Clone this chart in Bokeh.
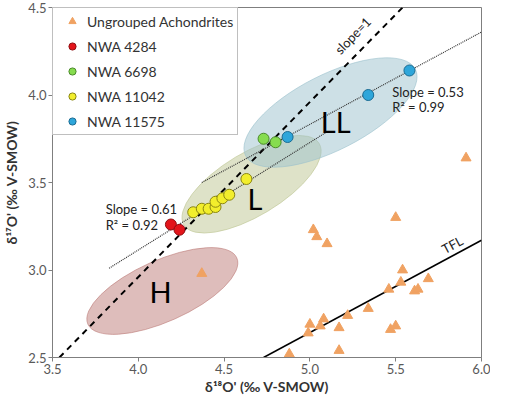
import math
from bokeh.plotting import figure
from bokeh.models import Range1d, Label, FixedTicker
from bokeh.embed import file_html
from bokeh.resources import INLINE

# ---- data ----
ungrouped_x = [5.91, 4.37, 5.50, 5.02, 5.04, 5.10, 5.54, 5.53, 5.69, 5.46, 5.61, 5.63,
               5.34, 5.22, 5.08, 5.06, 5.00, 4.99, 5.17, 5.47, 5.50, 5.17, 4.88]
ungrouped_y = [3.64, 2.98, 3.30, 3.23, 3.19, 3.15, 3.00, 2.93, 2.95, 2.89, 2.88, 2.89,
               2.78, 2.74, 2.72, 2.68, 2.69, 2.64, 2.67, 2.66, 2.68, 2.54, 2.52]
nwa4284_x = [4.19, 4.24]
nwa4284_y = [3.26, 3.23]
nwa6698_x = [4.73, 4.80]
nwa6698_y = [3.75, 3.73]
nwa11042_x = [4.32, 4.37, 4.41, 4.45, 4.45, 4.49, 4.53, 4.63]
nwa11042_y = [3.33, 3.35, 3.35, 3.36, 3.39, 3.41, 3.43, 3.52]
nwa11575_x = [4.87, 5.34, 5.58]
nwa11575_y = [3.76, 4.00, 4.14]

# chondrite group fields (center, width, height, angle in degrees)
group_names = ["H", "L", "LL"]
group_cx = [4.14, 4.66, 5.12]
group_cy = [2.88, 3.49, 3.90]
group_w = [0.95, 0.92, 1.11]
group_h = [0.35, 0.36, 0.43]
group_angle = [24, 31, 27]
group_label_x = [4.13, 4.68, 5.15]
group_label_y = [2.88, 3.41, 3.85]

# reference lines (end points)
slope1_x = [3.54, 5.54]
slope1_y = [2.50, 4.50]
tfl_x = [4.73, 6.00]
tfl_y = [2.50, 3.17]
fit4284_x = [3.83, 5.10]
fit4284_y = [3.01, 3.79]
fit11575_x = [4.37, 6.00]
fit11575_y = [3.50, 4.36]

x_ticks = [3.5, 4.0, 4.5, 5.0, 5.5, 6.0]
y_ticks = [2.5, 3.0, 3.5, 4.0, 4.5]

FONT = "Lato"

p = figure(width=490, height=397, x_range=Range1d(3.5, 6.0), y_range=Range1d(2.5, 4.5),
           output_backend="svg", toolbar_location=None,
           min_border_left=48, min_border_right=9, min_border_top=7, min_border_bottom=39)
p.background_fill_color = "white"
p.border_fill_color = "white"
p.outline_line_color = "#7f7f7f"
p.outline_line_width = 1
p.grid.visible = False

# ellipses
fills = ["#bd7b78", "#bdc591", "#9bc1cd"]
for i in range(3):
    p.ellipse(x=[group_cx[i]], y=[group_cy[i]], width=[group_w[i]], height=[group_h[i]],
              angle=[math.radians(group_angle[i])], fill_color=fills[i], fill_alpha=0.5,
              line_color=fills[i], line_alpha=0.6, line_width=1)

# lines
p.line(slope1_x, slope1_y, line_color="black", line_width=2, line_dash="6 5")
p.line(tfl_x, tfl_y, line_color="black", line_width=1.6)
p.line(fit4284_x, fit4284_y, line_color="#333333", line_width=1.2, line_dash="1 1")
p.line(fit11575_x, fit11575_y, line_color="#333333", line_width=1.2, line_dash="1 1")

# points
p.scatter(ungrouped_x, ungrouped_y, marker="triangle", size=10, fill_color="#f0a262",
          line_color="#f0a262", legend_label="Ungrouped Achondrites")
p.scatter(nwa4284_x, nwa4284_y, marker="circle", size=11, fill_color="#e3151b",
          line_color="#8f1013", line_width=1, legend_label="NWA 4284")
p.scatter(nwa6698_x, nwa6698_y, marker="circle", size=11, fill_color="#86dc4f",
          line_color="#4a8a2a", line_width=1, legend_label="NWA 6698")
p.scatter(nwa11042_x, nwa11042_y, marker="circle", size=11, fill_color="#f2ee2c",
          line_color="#8a8612", line_width=1, legend_label="NWA 11042")
p.scatter(nwa11575_x, nwa11575_y, marker="circle", size=11, fill_color="#2ea6da",
          line_color="#1b6c93", line_width=1, legend_label="NWA 11575")

# group labels
for i in range(3):
    p.add_layout(Label(x=group_label_x[i], y=group_label_y[i], text=group_names[i],
                       text_font=FONT, text_font_size="29px", text_color="black",
                       text_align="center", text_baseline="middle"))

# annotations
ann = dict(text_font=FONT, text_font_size="13px", text_color="#222222", text_baseline="middle")
p.add_layout(Label(x=3.81, y=3.35, text="Slope = 0.61", **ann))
p.add_layout(Label(x=3.81, y=3.255, text="R² = 0.92", **ann))
p.add_layout(Label(x=5.48, y=4.02, text="Slope = 0.53", **ann))
p.add_layout(Label(x=5.48, y=3.93, text="R² = 0.99", **ann))
p.add_layout(Label(x=5.25, y=4.34, text="slope=1", text_align="center",
                   angle=math.radians(46), **ann))
p.add_layout(Label(x=5.83, y=3.145, text="TFL", text_align="center",
                   angle=math.radians(28), **ann))

# axes
p.xaxis.ticker = FixedTicker(ticks=x_ticks)
p.yaxis.ticker = FixedTicker(ticks=y_ticks)
p.xaxis.major_label_overrides = {t: f"{t:.1f}" for t in x_ticks}
p.yaxis.major_label_overrides = {t: f"{t:.1f}" for t in y_ticks}
for ax in (p.xaxis[0], p.yaxis[0]):
    ax.minor_tick_line_color = None
    ax.major_tick_in = 0
    ax.major_tick_out = 4
    ax.major_tick_line_color = "#7f7f7f"
    ax.axis_line_color = "#7f7f7f"
    ax.major_label_text_font = FONT
    ax.major_label_text_font_size = "13px"
    ax.major_label_text_color = "#595959"
    ax.axis_label_text_font = FONT
    ax.axis_label_text_font_size = "14px"
    ax.axis_label_text_font_style = "bold"
    ax.axis_label_text_color = "#333333"
    ax.major_label_standoff = 2
    ax.axis_label_standoff = 1
p.yaxis.axis_label_standoff = 5
p.xaxis.axis_label = "δ¹⁸O' (‰ V-SMOW)"
p.yaxis.axis_label = "δ¹⁷O' (‰ V-SMOW)"

# legend
lg = p.legend[0]
lg.location = "top_left"
lg.margin = 0
lg.padding = 4
lg.spacing = 7
lg.glyph_width = 30
lg.glyph_height = 18
lg.label_height = 18
lg.label_standoff = 0
lg.label_text_font = FONT
lg.label_text_font_size = "14px"
lg.label_text_color = "#333333"
lg.border_line_color = "#7f7f7f"
lg.border_line_width = 1
lg.background_fill_color = "white"
lg.background_fill_alpha = 1

open("out.html", "w").write(file_html(p, INLINE))
